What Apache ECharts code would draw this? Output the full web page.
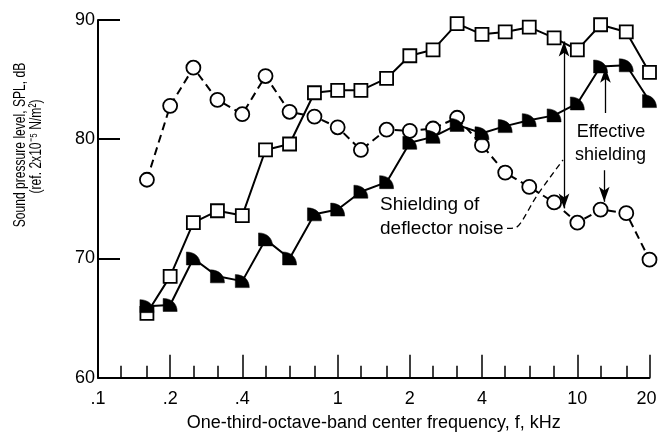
<!DOCTYPE html>
<html><head><meta charset="utf-8">
<script src="https://cdn.jsdelivr.net/npm/echarts@6/dist/echarts.min.js"></script>
<style>html,body{margin:0;padding:0;background:#fff}#c{width:658px;height:433px}</style>
</head><body><div id="c"></div>
<script>
// One-third-octave band centre frequencies, kHz
const freqs = [0.16,0.2,0.25,0.315,0.4,0.5,0.63,0.8,1,1.25,1.6,2,2.5,3.15,4,5,6.3,8,10,12.5,16,20];
// Open squares (solid line)
const squareSPL = [65.4,68.5,73.0,74.0,73.6,79.1,79.6,83.9,84.1,84.1,85.1,87.0,87.5,89.7,88.8,89.0,89.4,88.5,87.5,89.6,89.0,85.6];
// Open circles (dashed line)
const circleSPL = [76.6,82.8,86.0,83.3,82.1,85.3,82.3,81.9,81.0,79.1,80.8,80.7,80.9,81.8,79.5,77.2,76.0,74.7,73.0,74.1,73.8,69.9];
// Solid flagged symbols (solid line)
const flagSPL = [66.0,66.1,70.0,68.5,68.1,71.6,70.0,73.7,74.1,75.6,76.4,79.7,80.2,81.2,80.5,81.1,81.6,82.0,83.0,86.1,86.2,83.2];
// Axis ticks
const xLabelValues = [0.1,0.2,0.4,1,2,4,10,20];
const xTickLabels = ['.1','.2','.4','1','2','4','10','20'];
const xMajorTicks = [0.2,0.4,1,2,4,10,20];
const xMinorTicks = [0.125,0.16,0.25,0.315,0.5,0.63,0.8,1.25,1.6,2.5,3.15,5,6.3,8,12.5,16];
const yMin = 60, yMax = 90, yStep = 10;

const FONT = "'Liberation Sans', Arial, sans-serif";
const xMin = 0.1, xMax = 20;
const lg = v => Math.log10(v);

const chart = echarts.init(document.getElementById('c'), null, {renderer: 'canvas'});
const pairs = arr => freqs.map((f, i) => [f, arr[i]]);
const flagPath = 'path://M0,0 C6,0 10,4 10,10 L0,10 Z';

const tickAxisBase = {
  type: 'value', position: 'bottom', min: lg(xMin), max: lg(xMax),
  axisLine: {show: false, onZero: false}, splitLine: {show: false}
};

chart.setOption({
  animation: false,
  backgroundColor: '#fff',
  grid: {left: 98, right: 8.5, top: 20, bottom: 55.3, containLabel: false, outerBoundsMode: 'none'},
  xAxis: [
    {
      type: 'log', logBase: 10, min: xMin, max: xMax, position: 'bottom',
      axisLine: {show: true, onZero: false, lineStyle: {color: '#000', width: 2}},
      axisTick: {show: false}, axisLabel: {show: false}, splitLine: {show: false},
      minorTick: {show: false},
      name: 'One-third-octave-band center frequency, f, kHz',
      nameLocation: 'middle', nameGap: 36,
      nameTextStyle: {color: '#000', fontSize: 18, fontFamily: FONT}
    },
    Object.assign({}, tickAxisBase, {
      axisTick: {show: true, inside: true, length: 23, lineStyle: {color: '#000', width: 1.5},
                 customValues: xMajorTicks.map(lg)},
      axisLabel: {show: true, color: '#000', fontSize: 18, fontFamily: FONT, margin: 12,
                  customValues: xLabelValues.map(lg),
                  rich: {last: {fontSize: 18, fontFamily: FONT, color: '#000', padding: [0, 6, 0, 0]}},
                  formatter: v => {
                    let best = 0, bd = Infinity;
                    xLabelValues.forEach((x, i) => { const d = Math.abs(lg(x) - v); if (d < bd) { bd = d; best = i; } });
                    return best === xLabelValues.length - 1 ? '{last|' + xTickLabels[best] + '}' : xTickLabels[best];
                  }}
    }),
    Object.assign({}, tickAxisBase, {
      axisTick: {show: true, inside: true, length: 12, lineStyle: {color: '#000', width: 1.5},
                 customValues: xMinorTicks.map(lg)},
      axisLabel: {show: false}
    })
  ],
  yAxis: {
    type: 'value', min: yMin, max: yMax, interval: yStep,
    axisLine: {show: true, onZero: false, lineStyle: {color: '#000', width: 2}},
    axisTick: {show: true, inside: true, length: 22, lineStyle: {color: '#000', width: 2}},
    axisLabel: {color: '#000', fontSize: 18, fontFamily: FONT, margin: 3},
    splitLine: {show: false}
  },
  series: [
    {
      type: 'line', xAxisIndex: 0, data: pairs(circleSPL), z: 2,
      symbol: 'circle', symbolSize: 14,
      lineStyle: {color: '#000', width: 2, type: [8, 5]},
      itemStyle: {color: '#fff', borderColor: '#000', borderWidth: 1.8},
      emphasis: {disabled: true}
    },
    {
      type: 'line', xAxisIndex: 0, data: pairs(squareSPL), z: 3,
      symbol: 'rect', symbolSize: 13,
      lineStyle: {color: '#000', width: 2},
      itemStyle: {color: '#fff', borderColor: '#000', borderWidth: 1.8},
      emphasis: {disabled: true},
      markLine: {
        silent: true, animation: false, precision: 3,
        label: {show: false},
        lineStyle: {color: '#000', width: 1.3, type: 'solid'},
        symbol: ['arrow', 'arrow'], symbolSize: [8, 15],
        data: [
          [{coord: [8.8, 74.2]}, {coord: [8.8, 88.2]}],
          [{coord: [13.1, 82.2], symbol: 'none'}, {coord: [13.1, 86.0], symbol: 'arrow'}],
          [{coord: [12.95, 77.4], symbol: 'none'}, {coord: [12.95, 74.75], symbol: 'arrow'}]
        ]
      }
    },
    {
      type: 'line', xAxisIndex: 0, data: pairs(flagSPL), z: 4,
      symbol: flagPath, symbolSize: [14, 13], symbolKeepAspect: false,
      lineStyle: {color: '#000', width: 2},
      itemStyle: {color: '#000', borderColor: '#000', borderWidth: 0.5},
      emphasis: {disabled: true}
    }
  ],
  graphic: [
    {type: 'text', x: 20, y: 145, rotation: Math.PI / 2, scaleX: 0.72, silent: true,
     style: {text: 'Sound pressure level, SPL, dB', fill: '#000', font: '16.8px ' + FONT, textAlign: 'center', textVerticalAlign: 'middle'}},
    {type: 'text', x: 36, y: 146.5, rotation: Math.PI / 2, scaleX: 0.72, silent: true,
     style: {text: '(ref. 2x10\u207B\u2075 N/m\u00B2)', fill: '#000', font: '16.8px ' + FONT, textAlign: 'center', textVerticalAlign: 'middle'}},
    {type: 'text', x: 380, y: 205, silent: true,
     style: {text: 'Shielding of', fill: '#000', font: '19px ' + FONT, textAlign: 'left', textVerticalAlign: 'middle'}},
    {type: 'text', x: 380, y: 228.3, silent: true,
     style: {text: 'deflector noise', fill: '#000', font: '19px ' + FONT, textAlign: 'left', textVerticalAlign: 'middle'}},
    {type: 'text', x: 611, y: 131.7, silent: true,
     style: {text: 'Effective', fill: '#000', font: '18px ' + FONT, textAlign: 'center', textVerticalAlign: 'middle'}},
    {type: 'text', x: 610.5, y: 155, silent: true,
     style: {text: 'shielding', fill: '#000', font: '18px ' + FONT, textAlign: 'center', textVerticalAlign: 'middle'}},
    {type: 'polyline', silent: true,
     shape: {points: [[507, 228.3], [516, 227.5], [522, 221], [536.7, 196], [563, 160]], smooth: 0.3},
     style: {stroke: '#000', lineWidth: 1.3, fill: null, lineDash: [6, 4]}}
  ]
});
</script>
</body></html>
